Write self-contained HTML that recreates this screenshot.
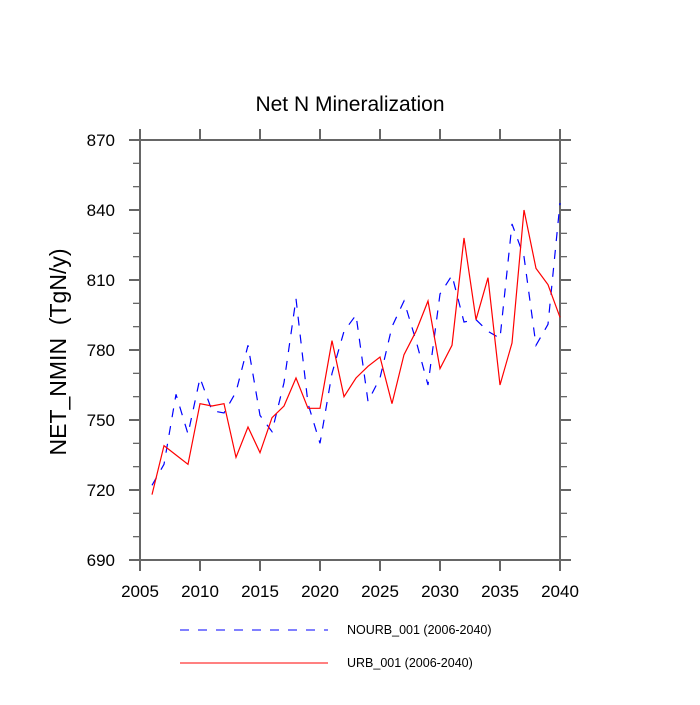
<!DOCTYPE html>
<html><head><meta charset="utf-8"><style>
body{margin:0;background:#fff}
svg text{font-family:"Liberation Sans",sans-serif;fill:#000}
</style></head><body>
<svg id="c" width="700" height="700" xmlns="http://www.w3.org/2000/svg">
<text x="350" y="111" font-size="21" text-anchor="middle">Net N Mineralization</text>
<text transform="translate(66,352) rotate(-90)" font-size="23" text-anchor="middle" xml:space="preserve" style="white-space:pre">NET_NMIN  (TgN/y)</text>
<g id="axes"></g>
<g id="series"></g>
<g>
<line x1="180" y1="630" x2="328" y2="630" stroke="#00f" stroke-dasharray="9,9"/>
<text x="347" y="634" font-size="12.5">NOURB_001 (2006-2040)</text>
<line x1="180" y1="663" x2="328" y2="663" stroke="#f00"/>
<text x="347" y="667" font-size="12.5">URB_001 (2006-2040)</text>
</g>
</svg>
<script>
const years=[2006,2007,2008,2009,2010,2011,2012,2013,2014,2015,2016,2017,2018,2019,2020,2021,2022,2023,2024,2025,2026,2027,2028,2029,2030,2031,2032,2033,2034,2035,2036,2037,2038,2039,2040];
const urb=[718,739,735,731,757,756,757,734,747,736,751,756,768,755,755,784,760,768,773,777,757,778,788,801,772,782,828,793,811,765,783,840,815,808,794];
const nourb=[722,731,761,744,768,754,753,762,782,752,745,766,802,757,740,770,788,795,758,768,790,801,784,765,804,812,792,793,788,785,834,820,782,791,843];
const xTicks=[2005,2010,2015,2020,2025,2030,2035,2040];
const yTicks=[690,720,750,780,810,840,870];
const L=140,R=560,T=140,B=560;
const X=v=>L+(v-2005)/35*(R-L);
const Y=v=>B-(v-690)/180*(B-T);
const NS="http://www.w3.org/2000/svg";
function mk(t,a,p){const e=document.createElementNS(NS,t);for(const k in a)e.setAttribute(k,a[k]);p.appendChild(e);return e;}
const ax=document.getElementById('axes');
const frame=mk('rect',{x:L,y:T,width:R-L,height:B-T,fill:'none',stroke:'#666','stroke-width':2},ax);


xTicks.forEach(v=>{
 const x=X(v);
 mk('line',{x1:x,y1:B,x2:x,y2:B+11,stroke:'#666','stroke-width':2},ax);
 mk('line',{x1:x,y1:T,x2:x,y2:T-11,stroke:'#666','stroke-width':2},ax);
 const t=mk('text',{x:x,y:B+37,'font-size':17,'text-anchor':'middle'},ax);t.textContent=v;
 
 
});
for(let v=690;v<=870;v+=10){
 const y=Y(v),maj=(v%30===0),len=maj?11:7;
 mk('line',{x1:L,y1:y,x2:L-len,y2:y,stroke:'#666','stroke-width':maj?2:1.3},ax);
 mk('line',{x1:R,y1:y,x2:R+len,y2:y,stroke:'#666','stroke-width':maj?2:1.3},ax);
}
yTicks.forEach(v=>{
 const t=mk('text',{x:L-25,y:Y(v)+6,'font-size':17,'text-anchor':'end'},ax);t.textContent=v;
 
 
});
const sg=document.getElementById('series');
const pb=mk('polyline',{points:years.map((y,i)=>X(y)+','+Y(nourb[i])).join(' '),fill:'none',stroke:'#00f','stroke-width':1.2,'stroke-dasharray':'9,9'},sg);


const pr=mk('polyline',{points:years.map((y,i)=>X(y)+','+Y(urb[i])).join(' '),fill:'none',stroke:'#f00','stroke-width':1.2},sg);


</script>
</body></html>
